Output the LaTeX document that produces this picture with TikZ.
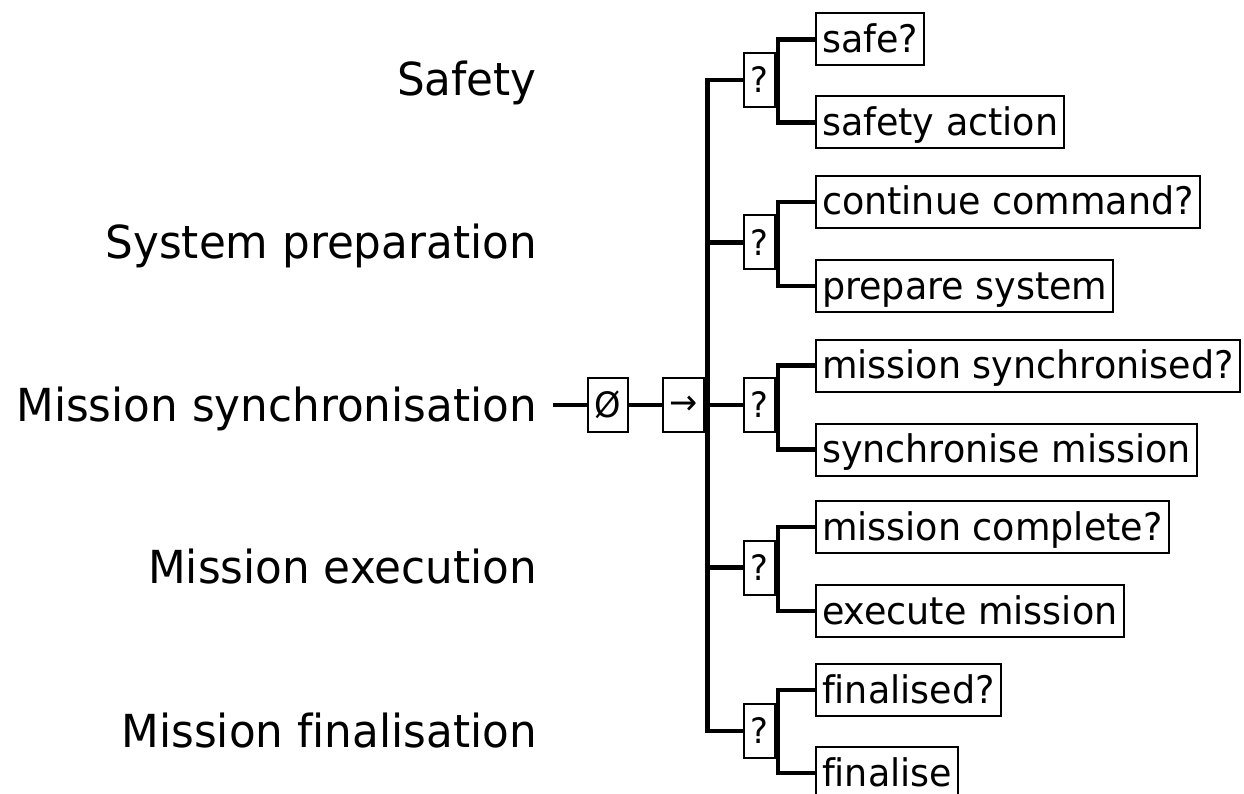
\documentclass[tikz,border=0pt]{standalone}
\usepackage{fontspec}
\setmainfont[Ligatures=NoCommon, FakeStretch=0.96]{DejaVu Sans}
\begin{document}
\begin{tikzpicture}[x=1pt,y=-1pt,
  lbl/.style={anchor=base east, font=\fontsize{45.5}{50}\selectfont, inner sep=0pt},
  leaf/.style={draw, line width=2pt, anchor=west, font=\fontsize{38}{42}\selectfont,
    inner xsep=6pt, inner ysep=4pt, text height=35pt, text depth=9pt},
  ctrl/.style={draw, line width=2pt, font=\fontsize{35}{40}\selectfont, inner sep=0pt,
    minimum height=54pt},
  conn/.style={line width=4.5pt, line join=miter}]
\useasboundingbox (0,0) rectangle (1244,794);

% left labels
\node[lbl] (l1) at (537,96) {Safety};
\node[lbl] (l2) at (537,258.5) {System preparation};
\node[lbl] (l3) at (537,421) {Mission synchronisation};
\node[lbl] (l4) at (537,583.5) {Mission execution};
\node[lbl] (l5) at (537,747) {Mission finalisation};

% root chain
\coordinate (s3) at (553,405);
\node[ctrl, minimum width=40pt] (par) at (608,405) {Ø};
\node[ctrl, minimum width=41pt] (seq) at (683.5,405) {→};

% selector nodes
\node[ctrl, minimum width=31pt] (q1) at (759,80) {?};
\node[ctrl, minimum width=31pt] (q2) at (759,242.5) {?};
\node[ctrl, minimum width=31pt] (q3) at (759,405) {?};
\node[ctrl, minimum width=31pt] (q4) at (759,567.5) {?};
\node[ctrl, minimum width=31pt] (q5) at (759,731) {?};

% leaves
\node[leaf] (a1) at (815,39.5) {safe?};
\node[leaf] (b1) at (815,122.5) {safety action};
\node[leaf] (a2) at (815,202) {continue command?};
\node[leaf] (b2) at (815,286) {prepare system};
\node[leaf] (a3) at (815,365.5) {mission synchronised?};
\node[leaf] (b3) at (815,449.5) {synchronise mission};
\node[leaf] (a4) at (815,527) {mission complete?};
\node[leaf] (b4) at (815,611) {execute mission};
\node[leaf] (a5) at (815,690) {finalised?};
\node[leaf] (b5) at (815,773) {finalise};

% connectors
\draw[conn] (s3) -- (par.west);
\draw[conn] (par.east) -- (seq.west);
\coordinate (bt) at (707.5,80);
\coordinate (bb) at (707.5,731);
\draw[conn] (q1.west) -- (bt) -- (bb) -- (q5.west);
\draw[conn] (bt |- q2.west) -- (q2.west);
\draw[conn] (seq.east) -- (q3.west);
\draw[conn] (bt |- q4.west) -- (q4.west);

\foreach \i in {1,...,5}{
  \draw[conn] (a\i.west) -- ++(-37,0) |- (b\i.west);
}
\end{tikzpicture}
\end{document}
